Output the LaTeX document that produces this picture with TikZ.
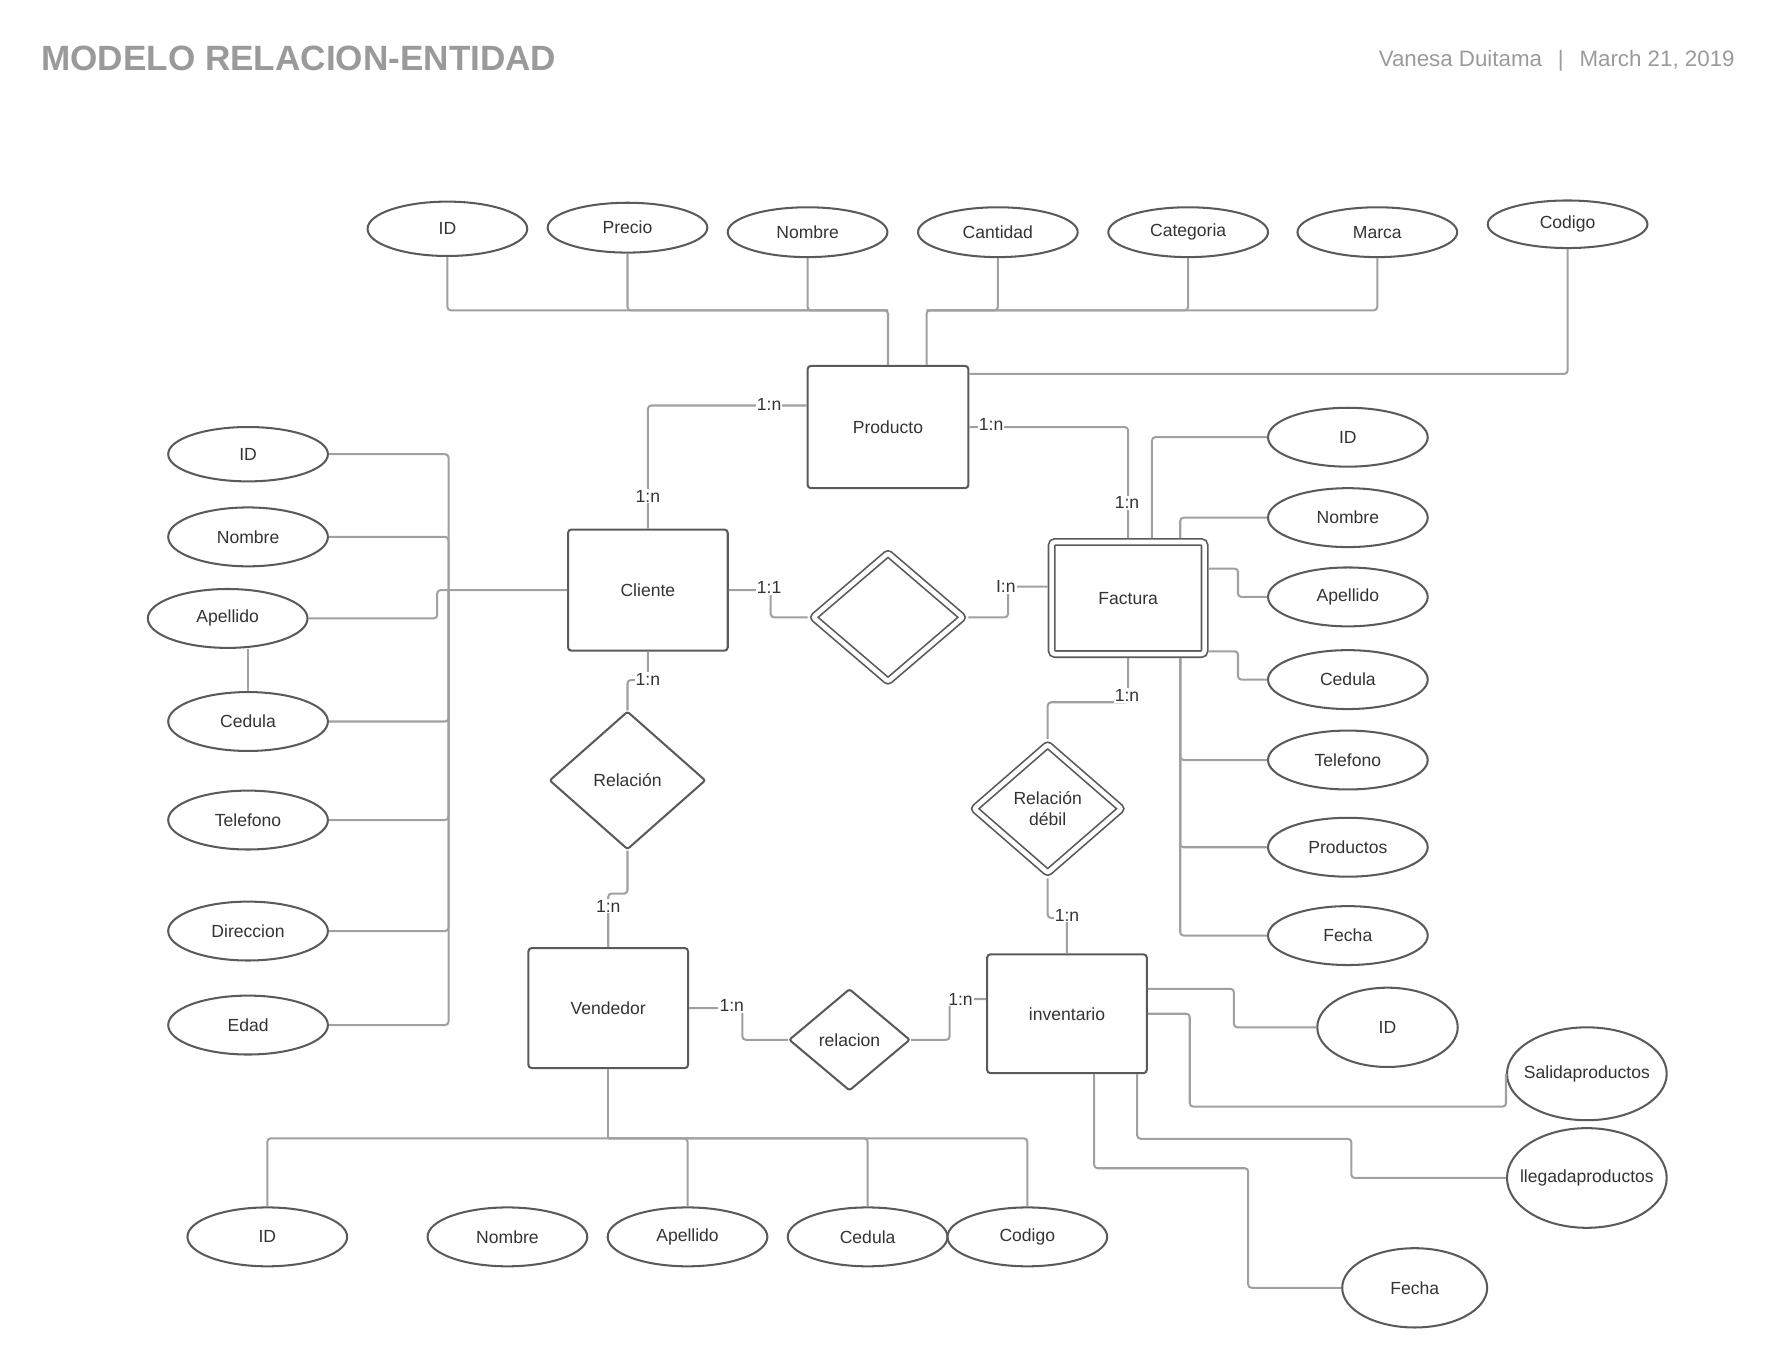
\documentclass[tikz,border=0pt]{standalone}
\usepackage{fontspec}
\setmainfont{Liberation Sans}
\usetikzlibrary{shapes.geometric,calc}
\definecolor{shp}{HTML}{5A5A5A}
\definecolor{lnc}{HTML}{A0A0A0}
\definecolor{tx}{HTML}{333333}
\definecolor{hd}{HTML}{9A9A9A}
\begin{document}
\begin{tikzpicture}[x=1pt,y=-1pt,
 every node/.style={font=\fontsize{15.5}{18}\selectfont, text=tx},
 ent/.style={draw=shp, line width=1.8pt, rounded corners=3pt, rectangle, minimum width=141pt, minimum height=106pt, inner sep=0pt},
 att/.style={draw=shp, line width=1.8pt, ellipse, minimum width=141pt, minimum height=52pt, inner sep=0pt},
 relbox/.style={draw=shp, line width=1.8pt, diamond, inner sep=0pt, rounded corners=2pt, align=center},
 dbl/.style={double=white, double distance=4pt, line width=1.5pt, outer sep=3.5pt},
 conn/.style={draw=lnc, line width=1.8pt, rounded corners=3pt},
 lb/.style={fill=white, inner sep=1pt}]
\useasboundingbox (0,0) rectangle (1568,1208);

% header
\node[anchor=west, font=\fontsize{31}{36}\selectfont\bfseries, text=hd] (title) at (33,52) {MODELO RELACION-ENTIDAD};
\node[anchor=east, font=\fontsize{19.7}{22}\selectfont, text=hd] (hdr) at (1535,54) {Vanesa Duitama\hspace{14pt}|\hspace{14pt}March 21, 2019};

% entities
\node[ent, minimum width=142pt, minimum height=108pt] (prod) at (784,377) {Producto};
\node[ent, minimum height=107pt] (cli) at (572,521) {Cliente};
\node[ent, dbl, minimum width=135pt, minimum height=99pt] (fac) at (996,528) {Factura};
\node[ent] (ven) at (537,890) {Vendedor};
\node[ent, minimum height=105pt] (inv) at (942,895) {inventario};

% relationships
\node[relbox, dbl, minimum width=135pt, minimum height=116pt] (dia) at (784,545) {};
\node[relbox, minimum width=138pt, minimum height=122pt] (rel) at (554,689) {Relación};
\node[relbox, dbl, minimum width=133pt, minimum height=116pt] (rd) at (925,714) {Relación\\débil};
\node[relbox, minimum width=107pt, minimum height=90pt] (rl) at (750,918) {relacion};

% producto attributes
\node[att, minimum height=48pt] (pID) at (395,202) {ID};
\node[att, minimum height=44pt] (pPre) at (554,201) {Precio};
\node[att, minimum height=44pt] (pNom) at (713,205) {Nombre};
\node[att, minimum height=44pt] (pCan) at (881,205) {Cantidad};
\node[att, minimum height=44pt] (pCat) at (1049,205) {Categoria};
\node[att, minimum height=44pt] (pMar) at (1216,205) {Marca};
\node[att, minimum height=42pt] (pCod) at (1384,198) {Codigo};

% cliente attributes
\node[att, minimum height=48pt] (cID) at (219,401) {ID};
\node[att] (cNom) at (219,474) {Nombre};
\node[att] (cApe) at (201,546) {Apellido};
\node[att] (cCed) at (219,637) {Cedula};
\node[att] (cTel) at (219,724) {Telefono};
\node[att] (cDir) at (219,822) {Direccion};
\node[att] (cEda) at (219,905) {Edad};

% factura attributes
\node[att] (fID) at (1190,386) {ID};
\node[att] (fNom) at (1190,457) {Nombre};
\node[att] (fApe) at (1190,527) {Apellido};
\node[att] (fCed) at (1190,600) {Cedula};
\node[att] (fTel) at (1190,671) {Telefono};
\node[att] (fPro) at (1190,748) {Productos};
\node[att] (fFec) at (1190,826) {Fecha};

% vendedor attributes
\node[att] (vID) at (236,1092) {ID};
\node[att] (vNom) at (448,1092) {Nombre};
\node[att] (vApe) at (607,1092) {Apellido};
\node[att] (vCed) at (766,1092) {Cedula};
\node[att] (vCod) at (907,1092) {Codigo};

% inventario attributes
\node[att, minimum width=124pt, minimum height=70pt] (iID) at (1225,907) {ID};
\node[att, minimum height=82pt] (iSal) at (1401,948) {\makebox[0pt]{Salidaproductos}};
\node[att, minimum height=88pt] (iLle) at (1401,1040) {\makebox[0pt]{llegadaproductos}};
\node[att, minimum width=128pt, minimum height=70pt] (iFec) at (1249,1137) {Fecha};

% junction coordinates
\coordinate (jl) at (784,274);
\coordinate (jr) at (818,274);
\coordinate (bus) at (396,521);
\coordinate (ap) at (386,521);
\coordinate (vb) at (537,1005);

% producto attribute connectors
\draw[conn] (pID.south) |- (jl) -- (prod.north);
\draw[conn] (pPre.south) |- (jl);
\draw[conn] (pNom.south) |- (jl);
\draw[conn] (pCan.south) |- (jr) -- (jr |- prod.north);
\draw[conn] (pCat.south) |- (jr);
\draw[conn] (pMar.south) |- (jr);
\draw[conn] (pCod.south) |- ([yshift=-8pt]prod.north east);

% cliente attribute connectors
\draw[conn] (cID.east) -| (bus);
\draw[conn] (cNom.east) -| (bus);
\draw[conn] (cCed.east) -| (bus);
\draw[conn] (cTel.east) -| (bus);
\draw[conn] (cDir.east) -| (bus);
\draw[conn] (cEda.east) -| (bus);
\draw[conn] (cApe.east) -| (ap) -- (cli.west);
\draw[conn] (cApe.south -| cCed.north) -- (cCed.north);

% factura attribute connectors
\draw[conn] (fID.west) -| ([xshift=21pt]fac.north);
\draw[conn] (fNom.west) -| ([xshift=46pt]fac.north);
\draw[conn] ([yshift=26pt]fac.east) -- ++(26,0) |- (fApe.west);
\draw[conn] ([yshift=-47pt]fac.east) -- ++(26,0) |- (fCed.west);
\draw[conn] ([xshift=46pt]fac.south) |- (fTel.west);
\draw[conn] ([xshift=46pt]fac.south) |- (fPro.west);
\draw[conn] ([xshift=46pt]fac.south) |- (fFec.west);

% vendedor attribute connectors
\draw[conn] (ven.south) -- (vb);
\draw[conn] (vb) -| (vID.north);
\draw[conn] (vb) -| (vApe.north);
\draw[conn] (vb) -| (vCed.north);
\draw[conn] (vb) -| (vCod.north);

% inventario attribute connectors
\draw[conn] ([yshift=22pt]inv.east) -- ++(76,0) |- (iID.west);
\draw[conn] (inv.east) -- ++(37,0) -- ++(0,82) -| (iSal.west);
\draw[conn] ([xshift=62pt]inv.south) -- ++(0,57) -- ++(189,0) |- (iLle.west);
\draw[conn] ([xshift=24pt]inv.south) -- ++(0,83) -- ++(136,0) |- (iFec.west);

% relationship connectors
\draw[conn] ([yshift=19pt]prod.west) -| (cli.north);
\draw[conn] (prod.east) -| (fac.north);
\draw[conn] (cli.east) -- ++(37,0) |- (dia.west);
\draw[conn] (dia.east) -- ++(35,0) |- ([yshift=10pt]fac.west);
\draw[conn] (fac.south) -- ++(0,39) -| (rd.north);
\draw[conn] (rd.south) -- ++(0,35) -| (inv.north);
\draw[conn] (cli.south) -- ++(0,25) -| (rel.north);
\draw[conn] (rel.south) -- ++(0,38) -| (ven.north);
\draw[conn] (ven.east) -- ++(47,0) |- (rl.west);
\draw[conn] (rl.east) -- ++(34,0) |- ([yshift=13pt]inv.west);

% cardinality labels
\node[lb] (l1) at (679,357) {1:n};
\node[lb] (l2) at (572,438) {1:n};
\node[lb] (l3) at (875,375) {1:n};
\node[lb] (l4) at (995,444) {1:n};
\node[lb] (l5) at (679,519) {1:1};
\node[lb] (l6) at (888,518) {I:n};
\node[lb] (l7) at (995,614) {1:n};
\node[lb] (l8) at (942,808) {1:n};
\node[lb] (l9) at (572,600) {1:n};
\node[lb] (l10) at (537,800) {1:n};
\node[lb] (l11) at (646,888) {1:n};
\node[lb] (l12) at (848,882) {1:n};
\end{tikzpicture}
\end{document}
